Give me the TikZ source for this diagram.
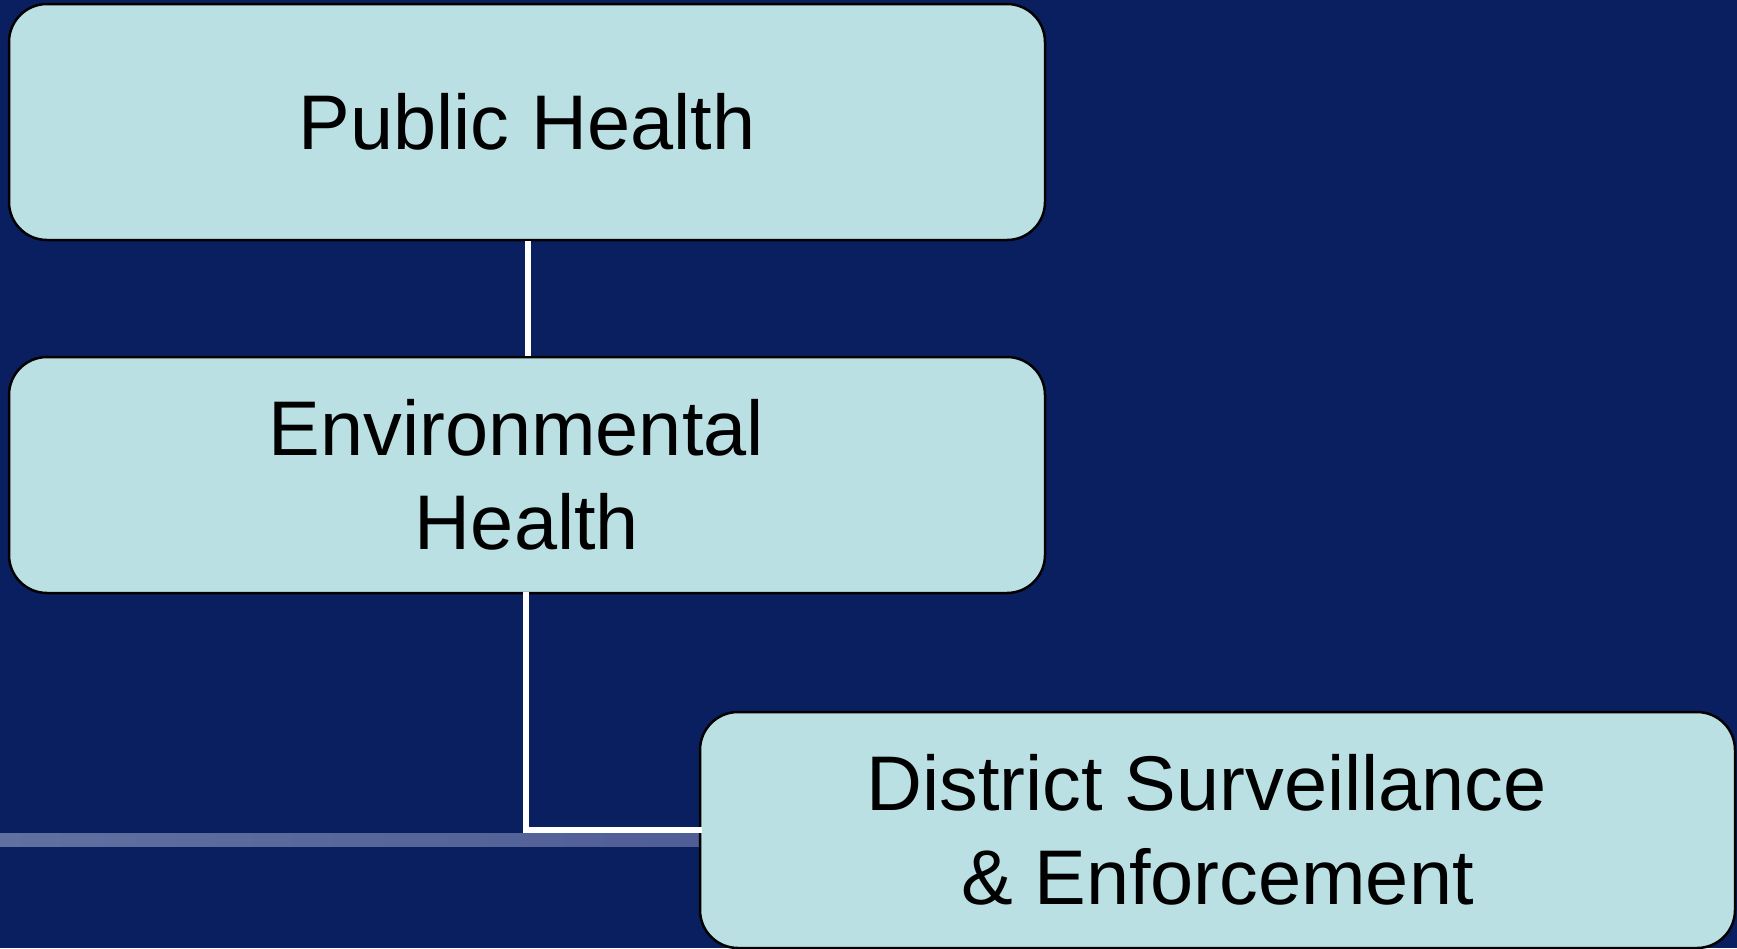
\documentclass[tikz,border=0pt]{standalone}
\usepackage{fontspec}
\setmainfont{Liberation Sans}
\definecolor{bgblue}{RGB}{10,31,95}
\definecolor{boxfill}{RGB}{186,224,227}
\definecolor{bandL}{RGB}{96,112,160}
\definecolor{bandR}{RGB}{80,94,150}
\begin{document}
\begin{tikzpicture}[x=1pt,y=-1pt,
  orgbox/.style={draw=black, line width=2.5pt, fill=boxfill, rounded corners=38pt,
    minimum width=1036pt, minimum height=236pt, inner sep=0pt, align=center,
    font=\fontsize{77.5}{94}\selectfont, text=black},
  link/.style={draw=white, line width=5.5pt}]
\fill[bgblue] (0,0) rectangle (1737,948);
\useasboundingbox (0,0) rectangle (1737,948);
\shade[left color=bandL, right color=bandR] (0,833) rectangle (700,846);
\node[orgbox] (ph) at (527,122) {Public Health};
\node[orgbox] (eh) at (527,475) {Environmental\hphantom{\ }\\Health};
\node[orgbox, minimum width=1035pt] (ds) at (1217.5,830) {District Surveillance\hphantom{\ }\\\& Enforcement};
\draw[link] (ph.south) ++(1,0) coordinate (a1) -- (a1 |- eh.north);
\draw[link, line cap=rect] (eh.south) ++(-1,0) coordinate (b1) -- (b1 |- ds.west) -- (ds.west);
\end{tikzpicture}
\end{document}
